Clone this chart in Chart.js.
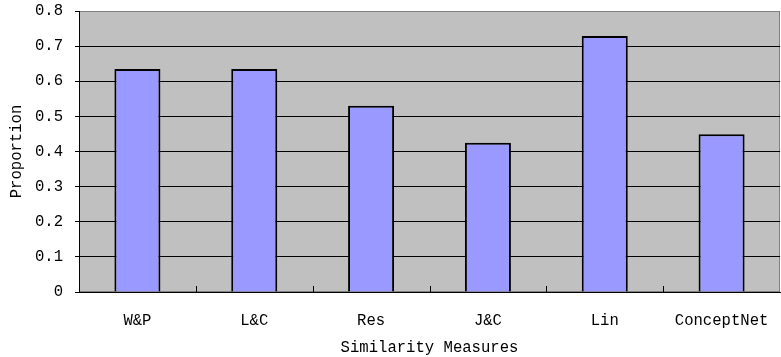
<!DOCTYPE html>
<html>
<head>
<meta charset="utf-8">
<script src="https://cdn.jsdelivr.net/npm/chart.js@4"></script>
<style>
  html, body { margin: 0; padding: 0; background: #fff; }
  #wrap { width: 781px; height: 357px; }
</style>
</head>
<body>
<div id="wrap"><canvas id="myChart" width="781" height="357"></canvas></div>
<script>
const measures = ["W&P", "L&C", "Res", "J&C", "Lin", "ConceptNet"];
const proportions = [0.635, 0.635, 0.53, 0.425, 0.729, 0.449];
const yTickLabels = ["0", "0.1", "0.2", "0.3", "0.4", "0.5", "0.6", "0.7", "0.8"];

const FONT = "'Liberation Mono', 'DejaVu Sans Mono', monospace";

// gray plot background with a thin gray frame
const plotBackground = {
  id: "plotBackground",
  beforeDraw(chart) {
    const { ctx, chartArea: a } = chart;
    ctx.save();
    ctx.fillStyle = "#c0c0c0";
    ctx.fillRect(a.left, a.top, a.right - a.left, a.bottom - a.top);
    ctx.strokeStyle = "#808080";
    ctx.lineWidth = 1;
    ctx.strokeRect(a.left + 0.5, a.top + 0.5, a.right - a.left - 1, a.bottom - a.top - 1);
    ctx.restore();
  },
  // short ticks pointing up from the x axis between categories
  afterDraw(chart) {
    const { ctx, chartArea: a } = chart;
    const x = chart.scales.x;
    ctx.save();
    ctx.strokeStyle = "#000";
    ctx.lineWidth = 1;
    for (let i = 0; i < measures.length - 1; i++) {
      const px = Math.round((x.getPixelForValue(i) + x.getPixelForValue(i + 1)) / 2) + 0.5;
      ctx.beginPath();
      ctx.moveTo(px, a.bottom);
      ctx.lineTo(px, a.bottom - 6);
      ctx.stroke();
    }
    ctx.restore();
  },
};

const ctx = document.getElementById("myChart");

new Chart(ctx, {
  type: "bar",
  data: {
    labels: measures,
    datasets: [
      {
        data: proportions,
        backgroundColor: "#9999ff",
        borderColor: "#000",
        borderWidth: 2,
        barPercentage: 0.394,
        categoryPercentage: 1,
      },
    ],
  },
  options: {
    responsive: false,
    animation: false,
    layout: { padding: { top: 11, right: 1, left: 0, bottom: 0 } },
    plugins: { legend: { display: false }, tooltip: { enabled: false } },
    scales: {
      x: {
        grid: { display: false },
        border: { color: "#000", width: 1 },
        ticks: { color: "#000", font: { family: FONT, size: 15.6 }, padding: 11, maxRotation: 0 },
        title: {
          display: true,
          text: "Similarity Measures",
          color: "#000",
          font: { family: FONT, size: 15.6, lineHeight: 1.2 },
          padding: { top: 0, bottom: 0 },
        },
        afterFit(scale) { scale.height = 65; },
      },
      y: {
        min: 0,
        max: 0.8,
        grid: {
          color: (c) => (c.tick && c.tick.value >= 0.8 ? "#808080" : "#000"),
          lineWidth: 1,
          tickLength: 4,
          tickColor: "#000",
        },
        border: { color: "#000", width: 1 },
        ticks: {
          stepSize: 0.1,
          color: "#000",
          padding: 12,
          font: { family: FONT, size: 15.6 },
          callback: (v, i) => yTickLabels[i],
        },
        title: {
          display: true,
          text: "Proportion",
          color: "#000",
          font: { family: FONT, size: 15.6, lineHeight: 1.2 },
          padding: { top: 7, bottom: 0 },
        },
        afterFit(scale) {
          scale.width = 79;
          scale.paddingTop = 0;
          scale.paddingBottom = 0;
        },
      },
    },
  },
  plugins: [plotBackground],
});
</script>
</body>
</html>
